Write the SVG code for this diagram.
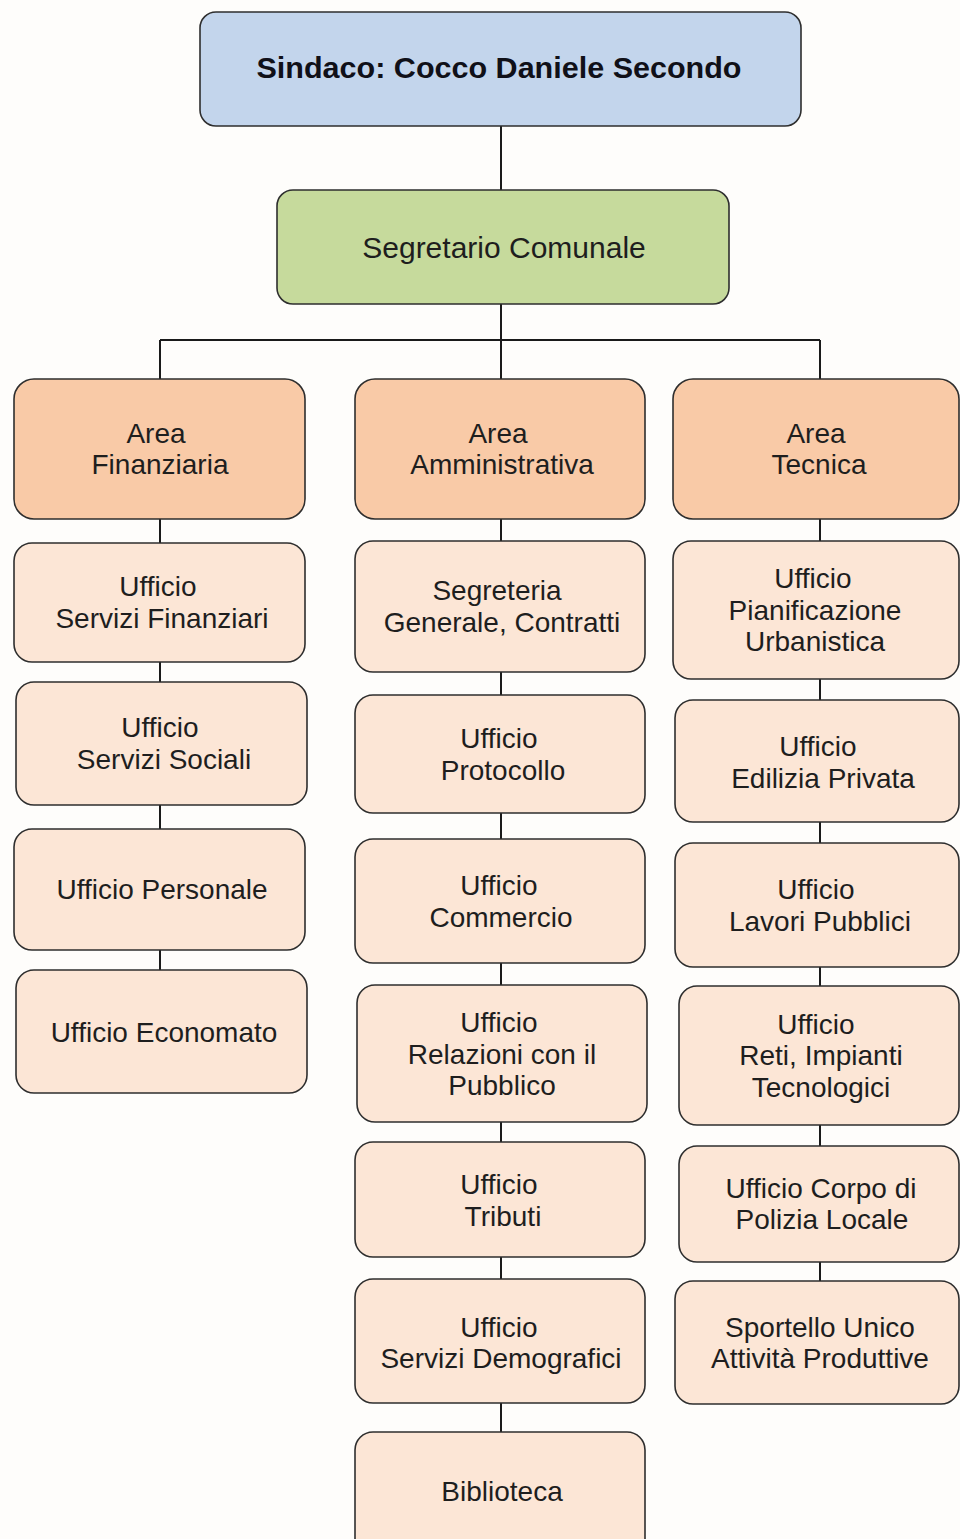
<svg xmlns="http://www.w3.org/2000/svg" width="960" height="1539" viewBox="0 0 960 1539">
<style>
.b{stroke:#2e2e2e;stroke-width:1.6}
.top{fill:#c3d5ec}
.sec{fill:#c6da9c}
.area{fill:#f9caa7}
.uf{fill:#fce6d6}
text{font-family:"Liberation Sans",Arial,sans-serif;font-size:28px;fill:#1e1e1e;text-anchor:middle}
.bold{font-weight:bold;font-size:29px;fill:#101018}
.big{font-size:30px}
.con{stroke:#1a1a1a;stroke-width:2;fill:none}
</style>
<rect width="960" height="1539" fill="#fefdfb"/>
<g id="connectors">
<path class="con" d="M501 126V190M501 304V379M160 340H820M160 340V379M820 340V379"/>
<path class="con" d="M160 519V543M160 662V682M160 805V829M160 950V970"/>
<path class="con" d="M501 519V541M501 672V695M501 813V839M501 963V985M501 1122V1142M501 1257V1279M501 1403V1432"/>
<path class="con" d="M820 519V541M820 679V700M820 822V843M820 967V986M820 1125V1146M820 1262V1281"/>
</g>
<g id="sindaco"><rect class="b top" x="200" y="12" width="601" height="114" rx="16"/><text class="bold" x="499" y="78" textLength="485" lengthAdjust="spacingAndGlyphs">Sindaco: Cocco Daniele Secondo</text></g>
<g id="segretario"><rect class="b sec" x="277" y="190" width="452" height="114" rx="16"/><text class="big" x="504" y="258">Segretario Comunale</text></g>
<g id="area-finanziaria"><rect class="b area" x="14" y="379" width="291" height="140" rx="20"/><text x="156" y="443">Area</text><text x="160" y="474">Finanziaria</text></g>
<g id="area-amministrativa"><rect class="b area" x="355" y="379" width="290" height="140" rx="20"/><text x="498" y="443">Area</text><text x="502" y="474">Amministrativa</text></g>
<g id="area-tecnica"><rect class="b area" x="673" y="379" width="286" height="140" rx="20"/><text x="816" y="443">Area</text><text x="819" y="474">Tecnica</text></g>
<g id="servizi-finanziari"><rect class="b uf" x="14" y="543" width="291" height="119" rx="18"/><text x="158" y="596">Ufficio</text><text x="162" y="628">Servizi Finanziari</text></g>
<g id="servizi-sociali"><rect class="b uf" x="16" y="682" width="291" height="123" rx="18"/><text x="160" y="737">Ufficio</text><text x="164" y="769">Servizi Sociali</text></g>
<g id="personale"><rect class="b uf" x="14" y="829" width="291" height="121" rx="18"/><text x="162" y="899">Ufficio Personale</text></g>
<g id="economato"><rect class="b uf" x="16" y="970" width="291" height="123" rx="18"/><text x="164" y="1042">Ufficio Economato</text></g>
<g id="segreteria"><rect class="b uf" x="355" y="541" width="290" height="131" rx="18"/><text x="497" y="600">Segreteria</text><text x="502" y="632">Generale, Contratti</text></g>
<g id="protocollo"><rect class="b uf" x="355" y="695" width="290" height="118" rx="18"/><text x="499" y="748">Ufficio</text><text x="503" y="780">Protocollo</text></g>
<g id="commercio"><rect class="b uf" x="355" y="839" width="290" height="124" rx="18"/><text x="499" y="895">Ufficio</text><text x="501" y="927">Commercio</text></g>
<g id="relazioni"><rect class="b uf" x="357" y="985" width="290" height="137" rx="18"/><text x="499" y="1032">Ufficio</text><text x="502" y="1064">Relazioni  con il</text><text x="502" y="1095">Pubblico</text></g>
<g id="tributi"><rect class="b uf" x="355" y="1142" width="290" height="115" rx="18"/><text x="499" y="1194">Ufficio</text><text x="503" y="1226">Tributi</text></g>
<g id="demografici"><rect class="b uf" x="355" y="1279" width="290" height="124" rx="18"/><text x="499" y="1337">Ufficio</text><text x="501" y="1368">Servizi Demografici</text></g>
<g id="biblioteca"><rect class="b uf" x="355" y="1432" width="290" height="130" rx="18"/><text x="502" y="1501">Biblioteca</text></g>
<g id="pianificazione"><rect class="b uf" x="673" y="541" width="286" height="138" rx="18"/><text x="813" y="588">Ufficio</text><text x="815" y="620">Pianificazione</text><text x="815" y="651">Urbanistica</text></g>
<g id="edilizia"><rect class="b uf" x="675" y="700" width="284" height="122" rx="18"/><text x="818" y="756">Ufficio</text><text x="823" y="788">Edilizia Privata</text></g>
<g id="lavori"><rect class="b uf" x="675" y="843" width="284" height="124" rx="18"/><text x="816" y="899">Ufficio</text><text x="820" y="931">Lavori Pubblici</text></g>
<g id="reti"><rect class="b uf" x="679" y="986" width="280" height="139" rx="18"/><text x="816" y="1034">Ufficio</text><text x="821" y="1065">Reti, Impianti</text><text x="821" y="1097">Tecnologici</text></g>
<g id="polizia"><rect class="b uf" x="679" y="1146" width="280" height="116" rx="18"/><text x="821" y="1198">Ufficio Corpo di</text><text x="822" y="1229">Polizia Locale</text></g>
<g id="sportello"><rect class="b uf" x="675" y="1281" width="284" height="123" rx="18"/><text x="820" y="1337">Sportello Unico</text><text x="820" y="1368">Attività Produttive</text></g>
</svg>
